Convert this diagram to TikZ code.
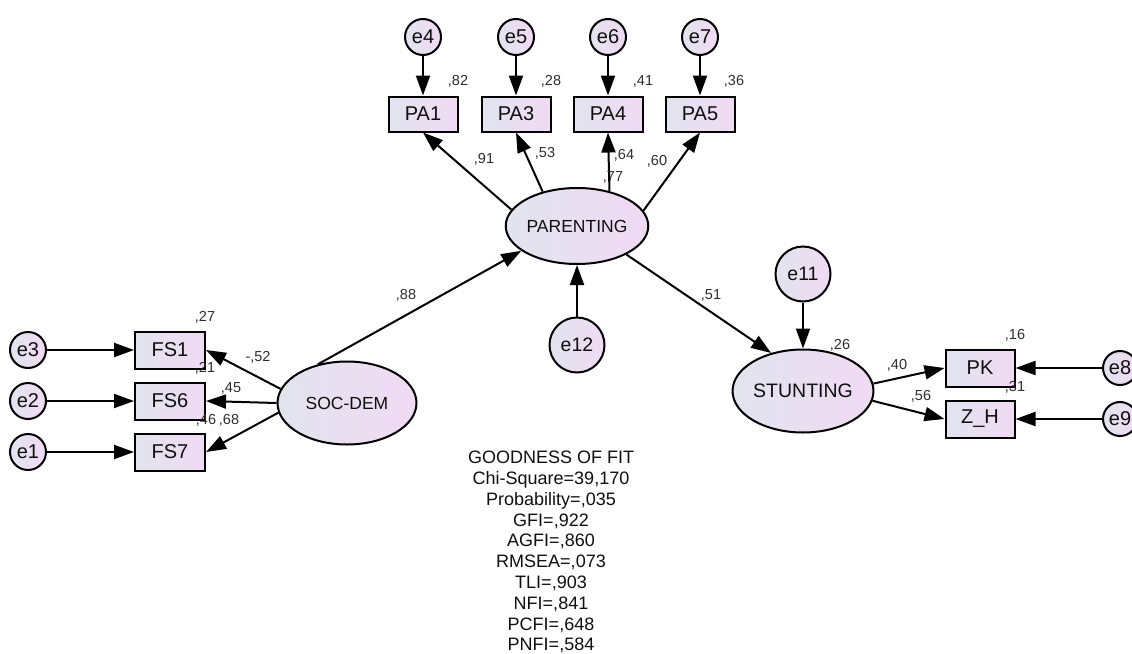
\documentclass[tikz,border=0pt]{standalone}
\usepackage{fontspec}
\setmainfont{Liberation Sans}
\usetikzlibrary{arrows.meta,shapes.geometric}
\definecolor{fillL}{RGB}{226,228,238}
\definecolor{fillR}{RGB}{240,218,244}
\definecolor{coef}{RGB}{45,45,45}
\definecolor{txt}{RGB}{15,15,15}
\begin{document}
\begin{tikzpicture}[x=1pt,y=-1pt,
 obs/.style={draw, line width=2pt, left color=fillL, right color=fillR, minimum width=69pt, minimum height=35pt, inner sep=0pt, text=txt, font=\fontsize{20}{20}\selectfont},
 err/.style={circle, draw, line width=2pt, left color=fillL, right color=fillR, minimum size=36pt, inner sep=0pt, text=txt, font=\fontsize{20}{20}\selectfont},
 bigerr/.style={err, minimum size=55pt, font=\fontsize{19.5}{19.5}\selectfont},
 lat/.style={ellipse, draw, line width=2pt, left color=fillL, right color=fillR, inner sep=0pt, text=txt},
 arr/.style={-{Triangle[length=20pt,width=14pt]}, line width=2pt},
 cf/.style={font=\fontsize{14.5}{14.5}\selectfont, text=coef, inner sep=0pt}
]
\useasboundingbox (0,0) rectangle (1132,653);

% error terms top
\node[err] (e4) at (423,37) {e4};
\node[err] (e5) at (516,37) {e5};
\node[err] (e6) at (608,37) {e6};
\node[err] (e7) at (700,37) {e7};
% indicators of PARENTING
\node[obs] (PA1) at (423,114) {PA1};
\node[obs] (PA3) at (516,114) {PA3};
\node[obs] (PA4) at (608,114) {PA4};
\node[obs] (PA5) at (700,114) {PA5};
% latents
\node[lat, minimum width=140pt, minimum height=76pt, font=\fontsize{17.5}{17.5}\selectfont] (PAR) at (577,226) {PARENTING};
\node[lat, minimum width=139pt, minimum height=83pt, font=\fontsize{17.5}{17.5}\selectfont] (SOC) at (347,403) {SOC-DEM};
\node[lat, minimum width=140pt, minimum height=83pt, font=\fontsize{19.5}{19.5}\selectfont] (STU) at (803,391) {STUNTING};
\node[bigerr] (e12) at (577,345) {e12};
\node[bigerr] (e11) at (803,274) {e11};
% FS indicators
\node[obs, minimum width=70pt, minimum height=37pt] (FS1) at (170,350) {FS1};
\node[obs, minimum width=70pt, minimum height=37pt] (FS6) at (170,401) {FS6};
\node[obs, minimum width=70pt, minimum height=37pt] (FS7) at (170,452) {FS7};
\node[err] (e3) at (28,350) {e3};
\node[err] (e2) at (28,401) {e2};
\node[err] (e1) at (28,452) {e1};
% stunting indicators
\node[obs, minimum height=37pt] (PK) at (980,368) {PK};
\node[obs, minimum height=37pt] (ZH) at (980,419) {Z\_H};
\node[err, minimum size=34pt] (e8) at (1120,368) {e8};
\node[err, minimum size=34pt] (e9) at (1120,419) {e9};

% arrows
\draw[arr] (e4) -- (PA1);
\draw[arr] (e5) -- (PA3);
\draw[arr] (e6) -- (PA4);
\draw[arr] (e7) -- (PA5);
\draw[arr] (PAR.166) -- (PA1.south);
\draw[arr] (PAR.135) -- (PA3.south);
\draw[arr] (PAR.47.6) -- (PA4.south);
\draw[arr] (PAR.13.8) -- (PA5.south);
\draw[arr] (e12) -- (PAR);
\draw[arr] (SOC.127) -- (PAR.204);
\draw[arr] (PAR.330) -- (STU.130);
\draw[arr] (e11) -- (STU);
\draw[arr] (SOC.168) -- (FS1.east);
\draw[arr] (SOC.180) -- (FS6.east);
\draw[arr] (SOC.188) -- (FS7.east);
\draw[arr] (e3) -- (FS1);
\draw[arr] (e2) -- (FS6);
\draw[arr] (e1) -- (FS7);
\draw[arr] (STU.6) -- (PK.west);
\draw[arr] (STU.-8) -- (ZH.west);
\draw[arr] (e8) -- (PK);
\draw[arr] (e9) -- (ZH);

% coefficients
\node[cf] (c82) at (458,81) {,82};
\node[cf] (c28) at (551,81) {,28};
\node[cf] (c41) at (643,81) {,41};
\node[cf] (c36) at (734,81) {,36};
\node[cf] (c91) at (484,159) {,91};
\node[cf] (c53) at (545,153) {,53};
\node[cf] (c64) at (624,155) {,64};
\node[cf] (c77) at (613,177) {,77};
\node[cf] (c60) at (657,161) {,60};
\node[cf] (c88) at (406,295) {,88};
\node[cf] (c51) at (711,295) {,51};
\node[cf] (c27) at (205,317) {,27};
\node[cf] (c21) at (205,368) {,21};
\node[cf] (c46) at (206,420) {,46};
\node[cf] (c68) at (229,420) {,68};
\node[cf] (c52) at (258,357) {-,52};
\node[cf] (c45) at (231,388) {,45};
\node[cf] (c26) at (840,345) {,26};
\node[cf] (c40) at (897,365) {,40};
\node[cf] (c56) at (921,396) {,56};
\node[cf] (c16) at (1015,335) {,16};
\node[cf] (c31) at (1015,387) {,31};

% goodness of fit
\node[anchor=north, align=center, inner sep=0pt, text=txt, font=\fontsize{18}{20.8}\selectfont] (gof) at (551,451) {GOODNESS OF FIT\\Chi-Square=39,170\\Probability=,035\\GFI=,922\\AGFI=,860\\RMSEA=,073\\TLI=,903\\NFI=,841\\PCFI=,648\\PNFI=,584};
\end{tikzpicture}
\end{document}
